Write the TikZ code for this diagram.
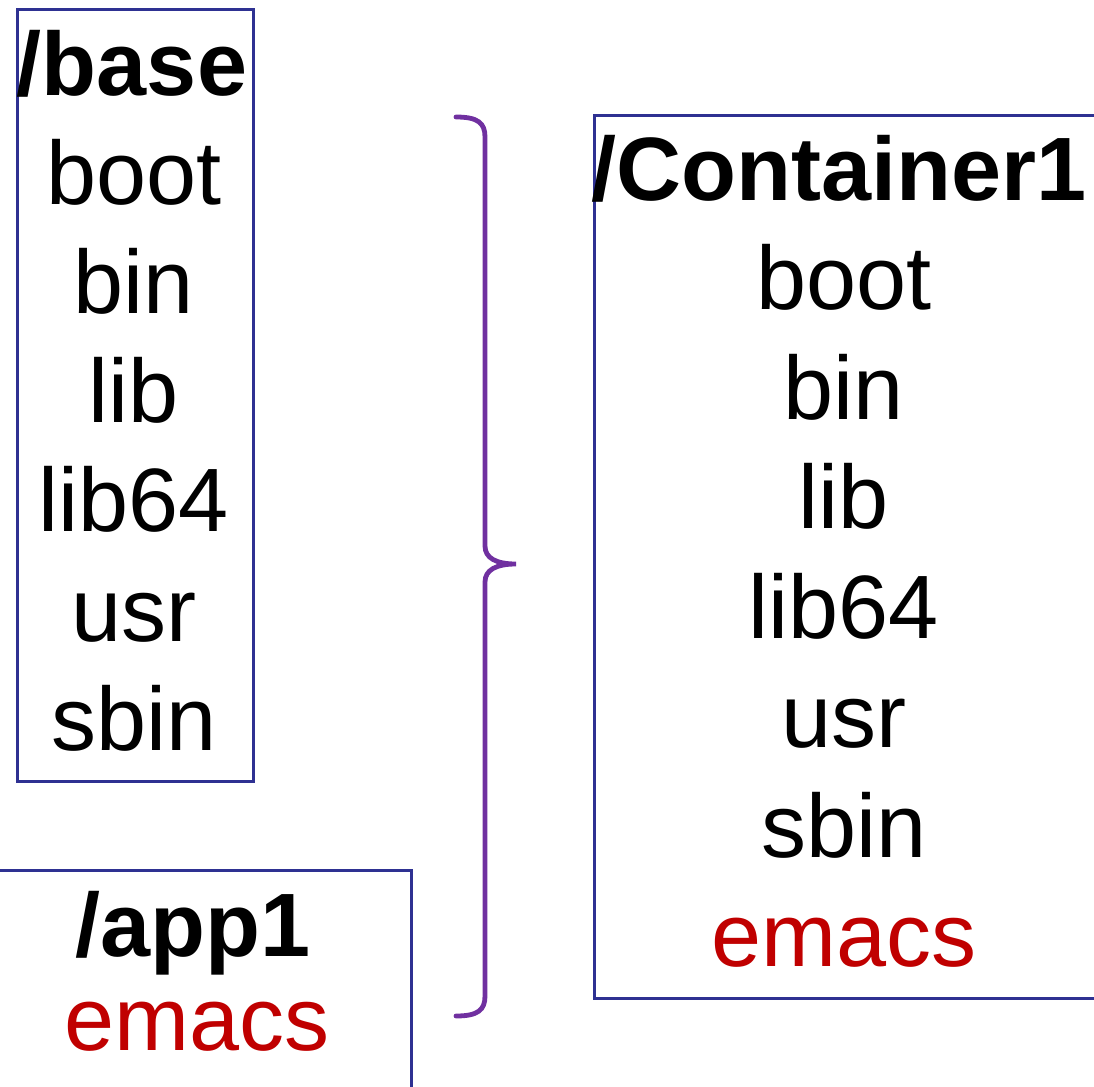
\documentclass[tikz,border=0pt]{standalone}
\usepackage{fontspec}
\setmainfont{Liberation Sans}
\usetikzlibrary{positioning}
\definecolor{boxblue}{RGB}{46, 49, 146}
\definecolor{bracepurple}{RGB}{112, 48, 160}
\definecolor{emacsred}{RGB}{192, 0, 0}

\tikzset{
  dirbox/.style={draw=boxblue, line width=1.3pt, anchor=north west, inner sep=0pt},
  entry/.style={anchor=base, inner sep=0pt, font=\fontsize{45}{50}\selectfont},
  header/.style={entry, font=\fontsize{45}{50}\selectfont\bfseries},
  brace/.style={draw=bracepurple, line width=2.4pt, line cap=round}
}

\begin{document}
\begin{tikzpicture}[x=0.5pt, y=-0.5pt]
  \useasboundingbox (0,0) rectangle (1094,1087);

  % Base image
  \node[dirbox, minimum width=118pt, minimum height=386pt] (base) at (16,8) {};
  \node[header] (basetitle) at (132,95) {/base};
  \foreach \name [count=\i] in {boot,bin,lib,lib64,usr,sbin}
    \node[entry] (base-\name) at (134,95+109.2*\i) {\name};

  % Application layer
  \node[dirbox, minimum width=207pt, minimum height=116pt] (app) at (-4,869) {};
  \node[header] (apptitle) at (193,956) {/app1};
  \node[entry, text=emacsred] (app-emacs) at (197,1050) {emacs};

  % Brace
  \draw[brace] (456,117) .. controls (478,117) and (485,123) .. (485,137)
    -- (485,546) .. controls (485,558) and (496,564) .. (516,564)
    .. controls (496,564) and (485,570) .. (485,582)
    -- (485,996) .. controls (485,1010) and (478,1016) .. (456,1016);

  % Resulting container
  \node[dirbox, minimum width=258pt, minimum height=441.5pt] (cont) at (593,114) {};
  \node[header] (conttitle) at (839,200) {/Container1};
  \foreach \name [count=\i] in {boot,bin,lib,lib64,usr,sbin}
    \node[entry] (cont-\name) at (844,200+109.5*\i) {\name};
  \node[entry, text=emacsred] (cont-emacs) at (844,966.5) {emacs};
\end{tikzpicture}
\end{document}
